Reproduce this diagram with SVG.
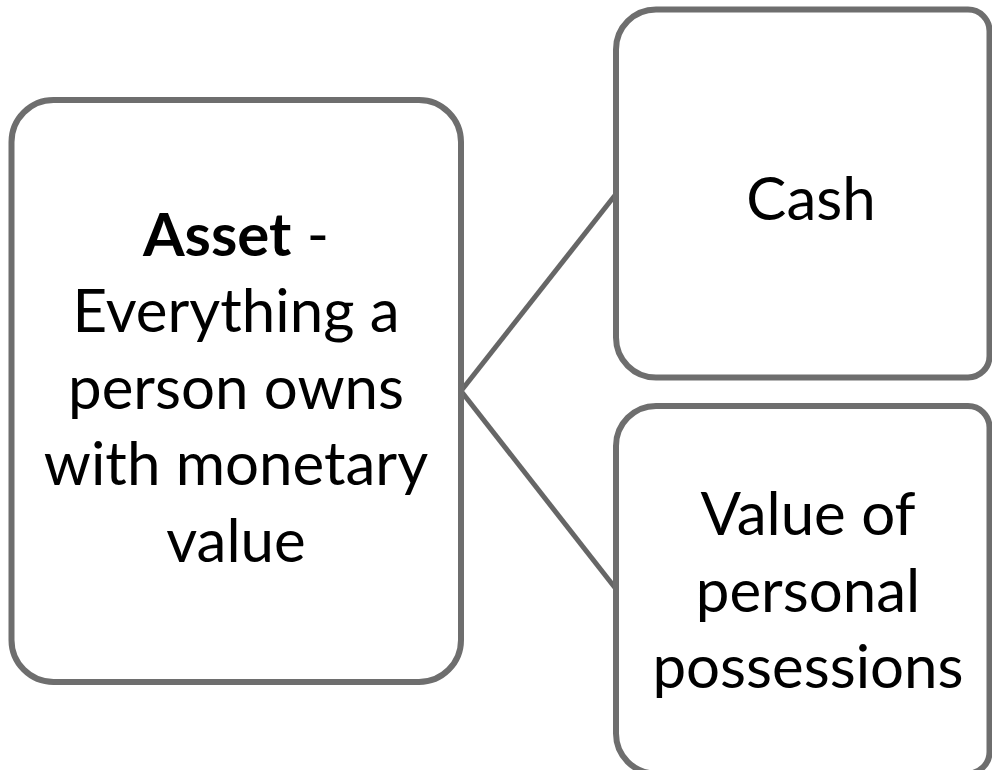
<svg xmlns="http://www.w3.org/2000/svg" width="992" height="770" viewBox="0 0 992 770">
<style>
.box{fill:#ffffff;stroke:#6e6e6e;stroke-width:6}
.conn{fill:none;stroke:#666666;stroke-width:5}
.t{font-family:Lato,"Open Sans","Liberation Sans",sans-serif;font-size:60px;fill:#000000;text-anchor:middle}
.b{font-weight:bold}
</style>
<rect width="992" height="770" fill="#ffffff"/>
<g id="connectors">
<line class="conn" x1="461" y1="391" x2="616" y2="194"/>
<line class="conn" x1="461" y1="391" x2="616" y2="589"/>
</g>
<g id="asset">
<rect class="box" x="11.5" y="100" width="449.5" height="582" rx="42" ry="42"/>
<text class="t" x="236" y="256"><tspan class="b">Asset</tspan> -</text>
<text class="t" x="236" y="332">Everything a</text>
<text class="t" x="236" y="409">person owns</text>
<text class="t" x="236" y="485">with monetary</text>
<text class="t" x="236" y="562">value</text>
</g>
<g id="cash">
<path class="box" d="M656,9.5 H968 A21.5,21.5 0 0 1 989.5,31 V356 A21.5,21.5 0 0 1 968,377.5 H656 A40,40 0 0 1 616,337.5 V49.5 A40,40 0 0 1 656,9.5 Z"/>
<text class="t" x="811" y="220">Cash</text>
</g>
<g id="possessions">
<path class="box" d="M656,406 H968 A21.5,21.5 0 0 1 989.5,427.5 V752 A21.5,21.5 0 0 1 968,773.5 H656 A40,40 0 0 1 616,733.5 V446 A40,40 0 0 1 656,406 Z"/>
<text class="t" x="808" y="535">Value of</text>
<text class="t" x="808" y="611.5">personal</text>
<text class="t" x="808" y="688">possessions</text>
</g>
</svg>
